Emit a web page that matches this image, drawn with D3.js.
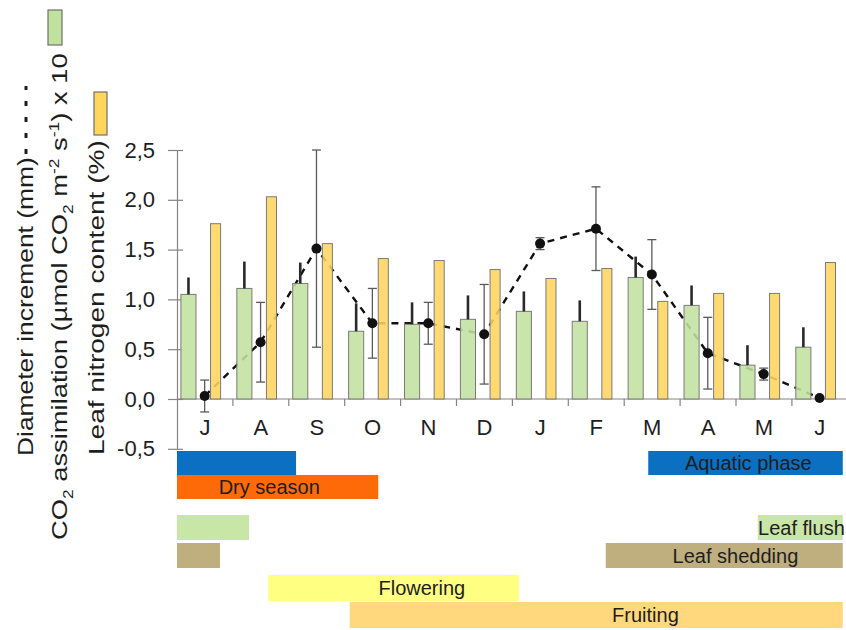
<!DOCTYPE html>
<html>
<head>
<meta charset="utf-8">
<script src="https://cdn.jsdelivr.net/npm/d3@7/dist/d3.min.js"></script>
<style>
  html, body { margin: 0; padding: 0; background: #ffffff; }
  svg { display: block; font-family: "Liberation Sans", Arial, sans-serif; }
</style>
</head>
<body>
<script>
// ---------------- DATA ----------------
const months = ["J", "A", "S", "O", "N", "D", "J", "F", "M", "A", "M", "J"];
const yTicks = [-0.5, 0, 0.5, 1.0, 1.5, 2.0, 2.5];

// CO2 assimilation (µmol CO2 m-2 s-1) x 10  (green bars) and upper error
const co2 =    [1.05, 1.11, 1.16, 0.68, 0.75, 0.80, 0.88, 0.78, 1.22, 0.94, 0.34, 0.52];
const co2Err = [0.17, 0.27, 0.21, 0.28, 0.22, 0.24, 0.20, 0.21, 0.21, 0.20, 0.20, 0.20];

// Leaf nitrogen content (%)  (yellow bars)
const nitrogen = [1.76, 2.03, 1.56, 1.41, 1.39, 1.30, 1.21, 1.31, 0.98, 1.06, 1.06, 1.37];

// Diameter increment (mm)  (dashed line) and error
const diameter =    [0.03, 0.57, 1.51, 0.76, 0.76, 0.65, 1.56, 1.71, 1.25, 0.46, 0.25, 0.01];
const diameterErr = [0.16, 0.40, 0.99, 0.35, 0.21, 0.50, 0.06, 0.42, 0.35, 0.36, 0.06, 0.00];

// Phenological / seasonal phases (in months from start of July)
const phaseLabels = ["", "Aquatic phase", "Dry season", "", "Leaf flush", "", "Leaf shedding", "Flowering", "Fruiting"];
const phaseKinds  = ["water", "water", "dry", "flush", "flush", "shed", "shed", "flower", "fruit"];
const phaseStart  = [0, 8.43, 0, 0, 10.39, 0, 7.67, 1.63, 3.09];
const phaseEnd    = [2.13, 11.91, 3.6, 1.29, 11.91, 0.77, 11.91, 6.12, 11.91];

// ---------------- LAYOUT / STYLE ----------------
const W = 846, H = 630;
const plotLeft = 177, plotRight = 847.8;
const colors = {
  green: "#C1E19F", yellow: "#FFD55E",
  water: "#0B6FC2", dry: "#FF6A08", flush: "#C8E6A6", shed: "#BFAE7E",
  flower: "#FFFF82", fruit: "#FFD87E", axis: "#848484", text: "#1e1e1e"
};
const rowOf = { water: 0, dry: 1, flush: 2, shed: 3, flower: 4, fruit: 5 };
const rowTop = [451, 475, 515, 543, 575, 602];
const rowH   = [24, 24, 25, 25, 26, 26];
const labelCenterMonth = [null, 10.22, 1.65, null, 11.17, null, 9.99, 4.38, 8.38];

const svg = d3.select("body").append("svg").attr("width", W).attr("height", H);

const x = d3.scaleBand().domain(d3.range(months.length)).range([plotLeft, plotRight]).paddingInner(0).paddingOuter(0);
const bw = x.bandwidth();
const mx = d3.scaleLinear().domain([0, 12]).range([plotLeft, plotRight]);
const y = d3.scaleLinear().domain([-0.5, 2.5]).range([448.8, 150]);

const dotX = i => x(i) + 0.495 * bw;

// ---------------- AXES ----------------
const fmt = d => d3.format(".1f")(d).replace(".", ",").replace("\u2212", "-");
const yAxisG = svg.append("g").attr("transform", `translate(${plotLeft},0)`)
  .call(d3.axisLeft(y).tickValues(yTicks).tickFormat(fmt).tickSizeInner(9).tickSizeOuter(0).tickPadding(13));
yAxisG.select(".domain").attr("stroke", colors.axis).attr("stroke-width", 1.2);
yAxisG.selectAll(".tick line").attr("stroke", colors.axis).attr("stroke-width", 1.2).attr("x1", 6);
yAxisG.selectAll(".tick text").attr("font-size", 22).attr("fill", colors.text)
  .attr("font-family", "Liberation Sans, Arial, sans-serif");

// x axis at zero
const y0 = y(0);
svg.append("line").attr("x1", plotLeft).attr("x2", W).attr("y1", y0).attr("y2", y0)
  .attr("stroke", colors.axis).attr("stroke-width", 1.2);
svg.append("g").selectAll("line").data(d3.range(1, months.length + 1)).join("line")
  .attr("x1", i => plotLeft + i * bw).attr("x2", i => plotLeft + i * bw)
  .attr("y1", y0).attr("y2", y0 + 7)
  .attr("stroke", colors.axis).attr("stroke-width", 1.2);
svg.append("g").selectAll("text").data(months).join("text")
  .attr("x", (d, i) => x(i) + bw / 2).attr("y", 435)
  .attr("text-anchor", "middle").attr("font-size", 22).attr("fill", colors.text)
  .text(d => d);

// ---------------- DASHED LINE (under bars) ----------------
svg.append("path")
  .datum(diameter)
  .attr("d", d3.line().x((d, i) => dotX(i)).y(d => y(d)))
  .attr("fill", "none").attr("stroke", "#111").attr("stroke-width", 2.4)
  .attr("stroke-dasharray", "7,6");

// ---------------- BARS ----------------
svg.append("g").selectAll("rect").data(co2).join("rect")
  .attr("x", (d, i) => x(i) + 0.07 * bw).attr("width", 0.27 * bw)
  .attr("y", d => y(d)).attr("height", d => y0 - y(d))
  .attr("fill", colors.green).attr("fill-opacity", 0.88)
  .attr("stroke", "#7a7a7a").attr("stroke-width", 1);

svg.append("g").selectAll("rect").data(nitrogen).join("rect")
  .attr("x", (d, i) => x(i) + 0.6 * bw).attr("width", 0.18 * bw)
  .attr("y", d => y(d)).attr("height", d => y0 - y(d))
  .attr("fill", colors.yellow).attr("fill-opacity", 0.88)
  .attr("stroke", "#7a7a7a").attr("stroke-width", 1);

// green upper error bars
svg.append("g").selectAll("line").data(co2).join("line")
  .attr("x1", (d, i) => x(i) + 0.205 * bw).attr("x2", (d, i) => x(i) + 0.205 * bw)
  .attr("y1", d => y(d)).attr("y2", (d, i) => y(d + co2Err[i]))
  .attr("stroke", "#2a2a2a").attr("stroke-width", 2.6);

// diameter error bars
const eg = svg.append("g");
diameter.forEach((d, i) => {
  const e = diameterErr[i];
  if (e <= 0) return;
  const cx = dotX(i);
  eg.append("line").attr("x1", cx).attr("x2", cx).attr("y1", y(d - e)).attr("y2", y(d + e))
    .attr("stroke", "#5a5a5a").attr("stroke-width", 1.3);
  [d - e, d + e].forEach(v => {
    eg.append("line").attr("x1", cx - 4.5).attr("x2", cx + 4.5).attr("y1", y(v)).attr("y2", y(v))
      .attr("stroke", "#5a5a5a").attr("stroke-width", 1.3);
  });
});

// dots
svg.append("g").selectAll("circle").data(diameter).join("circle")
  .attr("cx", (d, i) => dotX(i)).attr("cy", d => y(d)).attr("r", 5)
  .attr("fill", "#111");

// ---------------- PHASE BARS ----------------
const pg = svg.append("g");
phaseLabels.forEach((lab, i) => {
  const r = rowOf[phaseKinds[i]];
  pg.append("rect")
    .attr("x", mx(phaseStart[i])).attr("width", mx(phaseEnd[i]) - mx(phaseStart[i]))
    .attr("y", rowTop[r]).attr("height", rowH[r])
    .attr("fill", colors[phaseKinds[i]]);
  if (lab) {
    pg.append("text")
      .attr("x", mx(labelCenterMonth[i])).attr("y", rowTop[r] + rowH[r] / 2 + 7)
      .attr("text-anchor", "middle").attr("font-size", 20).attr("fill", colors.text)
      .text(lab);
  }
});

// ---------------- Y TITLES (rotated, stretched to reference length) ----------------
function vTitle(xBase, yStart, length, fontSize, build) {
  const g = svg.append("g");
  const t = g.append("text").attr("font-size", fontSize).attr("fill", colors.text);
  build(t);
  const w = t.node().getBBox().width;
  g.attr("transform", `translate(${xBase},${yStart}) rotate(-90) scale(${length / w},1)`);
}

vTitle(33, 456, 299, 22, t => t.text("Diameter increment (mm)"));
svg.append("line").attr("x1", 26).attr("x2", 26).attr("y1", 154).attr("y2", 86)
  .attr("stroke", "#1e1e1e").attr("stroke-width", 3).attr("stroke-dasharray", "5,11");

vTitle(67, 540, 487, 22, t => {
  t.append("tspan").text("CO");
  t.append("tspan").attr("dy", 6).attr("font-size", 14).text("2");
  t.append("tspan").attr("dy", -6).text(" assimilation (\u00B5mol CO");
  t.append("tspan").attr("dy", 6).attr("font-size", 14).text("2");
  t.append("tspan").attr("dy", -6).text(" m");
  t.append("tspan").attr("dy", -8).attr("font-size", 14).text("-2");
  t.append("tspan").attr("dy", 8).text(" s");
  t.append("tspan").attr("dy", -8).attr("font-size", 14).text("-1");
  t.append("tspan").attr("dy", 8).text(") x 10");
});
svg.append("rect").attr("x", 48).attr("y", 10).attr("width", 14).attr("height", 35)
  .attr("fill", colors.green).attr("stroke", "#6f6f6f").attr("stroke-width", 1.2);

vTitle(104, 455, 315, 22, t => t.text("Leaf nitrogen content (%)"));
svg.append("rect").attr("x", 94).attr("y", 92).attr("width", 13).attr("height", 43)
  .attr("fill", colors.yellow).attr("stroke", "#6f6f6f").attr("stroke-width", 1.2);
</script>
</body>
</html>
